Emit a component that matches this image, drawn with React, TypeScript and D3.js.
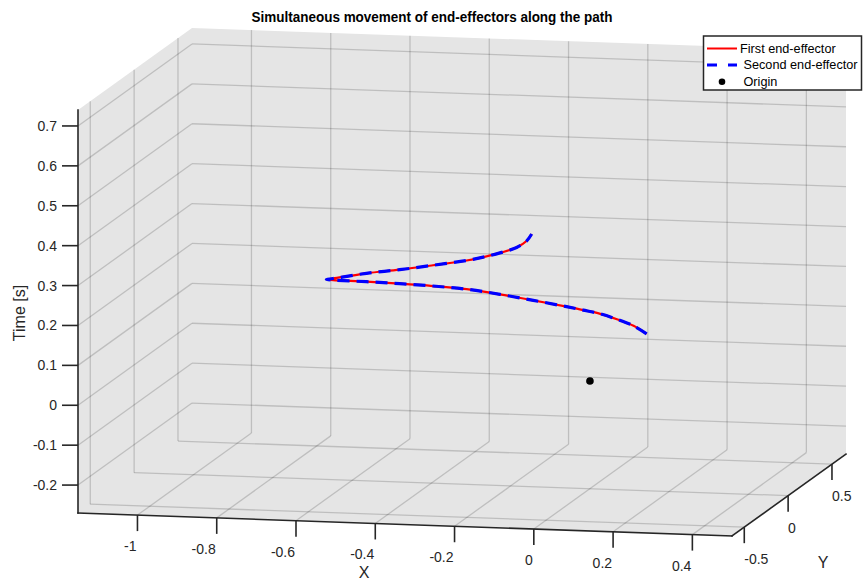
import React, { useRef, useEffect } from "react"
import * as d3 from "d3"

// axis limits and ticks
const xLim = [-1.15, 0.5]
const yLim = [-0.64, 0.66]
const zLim = [-0.27, 0.74]
const xTicks = [-1, -0.8, -0.6, -0.4, -0.2, 0, 0.2, 0.4]
const yTicks = [-0.5, 0, 0.5]
const zTicks = [-0.2, -0.1, 0, 0.1, 0.2, 0.3, 0.4, 0.5, 0.6, 0.7]

// end-effector paths (x, y, time)
const firstX = [0.143, 0.110, 0.068, 0.026, -0.017, -0.059, -0.143, -0.227, -0.311, -0.396, -0.480, -0.564, -0.648, -0.665, -0.648, -0.564, -0.480, -0.396, -0.311, -0.269, -0.227, -0.185, -0.160, -0.147]
const firstY = [0, 0, 0, 0, 0, 0, 0, 0, 0, 0, 0, 0, 0, 0, 0, 0, 0, 0, 0, 0, 0, 0, 0, 0]
const firstT = [0.123, 0.142, 0.157, 0.169, 0.177, 0.184, 0.197, 0.209, 0.219, 0.224, 0.227, 0.229, 0.230, 0.231, 0.234, 0.250, 0.262, 0.276, 0.291, 0.301, 0.313, 0.328, 0.345, 0.363]
const secondX = firstX
const secondY = firstY
const secondT = firstT
const origin = [0, 0, 0]

const legendItems = ["First end-effector", "Second end-effector", "Origin"]

const FONT = "'Liberation Sans', Arial, Helvetica, sans-serif"
const INK = "#262626"

const App = () => {
  const ref = useRef(null)
  const width = 865
  const height = 584

  useEffect(() => {
    const svg = d3.select(ref.current)
    svg.selectAll("*").remove()

    // screen position of the box corner (xmin, ymin, zmin) and the box edges
    const O = [78, 513]
    const EX = [654, 23]
    const EY = [114, -82]
    const EZ = [0, -403]
    const fx = d3.scaleLinear().domain(xLim).range([0, 1])
    const fy = d3.scaleLinear().domain(yLim).range([0, 1])
    const fz = d3.scaleLinear().domain(zLim).range([0, 1])
    const P = (x, y, z) => {
      const a = fx(x), b = fy(y), c = fz(z)
      return [O[0] + a * EX[0] + b * EY[0] + c * EZ[0], O[1] + a * EX[1] + b * EY[1] + c * EZ[1]]
    }
    const [x0, x1] = xLim
    const [y0, y1] = yLim
    const [z0, z1] = zLim

    // panes
    const pane = [P(x0, y0, z0), P(x0, y0, z1), P(x0, y1, z1), P(x1, y1, z1), P(x1, y1, z0), P(x1, y0, z0)]
    svg.append("polygon").attr("points", pane.map(p => p.join(",")).join(" ")).attr("fill", "#e5e5e5")

    // grid
    const segs = []
    xTicks.forEach(v => {
      segs.push([P(v, y1, z0), P(v, y1, z1)])
      segs.push([P(v, y0, z0), P(v, y1, z0)])
    })
    yTicks.forEach(v => {
      segs.push([P(x0, v, z0), P(x0, v, z1)])
      segs.push([P(x0, v, z0), P(x1, v, z0)])
    })
    zTicks.forEach(v => {
      segs.push([P(x0, y0, v), P(x0, y1, v)])
      segs.push([P(x0, y1, v), P(x1, y1, v)])
    })
    svg.append("g").selectAll("line").data(segs).enter().append("line")
      .attr("x1", d => d[0][0]).attr("y1", d => d[0][1])
      .attr("x2", d => d[1][0]).attr("y2", d => d[1][1])
      .attr("stroke", "#000").attr("stroke-opacity", 0.17).attr("stroke-width", 1.3)

    // axis lines
    const axes = [
      [P(x0, y0, z0), P(x1, y0, z0)],
      [P(x1, y0, z0), P(x1, y1, z0)],
      [P(x0, y0, z0), P(x0, y0, z1)],
    ]
    svg.append("g").selectAll("line").data(axes).enter().append("line")
      .attr("x1", d => d[0][0]).attr("y1", d => d[0][1])
      .attr("x2", d => d[1][0]).attr("y2", d => d[1][1])
      .attr("stroke", INK).attr("stroke-width", 1.6).attr("stroke-linecap", "square")

    const tickLen = 16
    const txt = (g, x, y, s, anchor) =>
      g.append("text").attr("x", x).attr("y", y).attr("text-anchor", anchor)
        .attr("dominant-baseline", "central").attr("font-family", FONT)
        .attr("font-size", 14).attr("fill", INK).text(s)

    const gt = svg.append("g")
    xTicks.forEach(v => {
      const [px, py] = P(v, y0, z0)
      gt.append("line").attr("x1", px).attr("y1", py).attr("x2", px).attr("y2", py + tickLen)
        .attr("stroke", INK).attr("stroke-width", 1.6)
      txt(gt, px - 1, py + 31, String(v), "end")
    })
    yTicks.forEach(v => {
      const [px, py] = P(x1, v, z0)
      gt.append("line").attr("x1", px).attr("y1", py).attr("x2", px).attr("y2", py + tickLen)
        .attr("stroke", INK).attr("stroke-width", 1.6)
      txt(gt, px, py + 32, String(v), "start")
    })
    zTicks.forEach(v => {
      const [px, py] = P(x0, y0, v)
      gt.append("line").attr("x1", px).attr("y1", py).attr("x2", px - tickLen).attr("y2", py)
        .attr("stroke", INK).attr("stroke-width", 1.6)
      txt(gt, px - 21, py, String(v), "end")
    })

    // axis labels
    const xMid = P((x0 + x1) / 2, y0, z0)
    svg.append("text").attr("x", xMid[0] - 41).attr("y", xMid[1] + 48)
      .attr("text-anchor", "middle").attr("dominant-baseline", "central")
      .attr("font-family", FONT).attr("font-size", 16).attr("fill", INK).text("X")
    const yMid = P(x1, (y0 + y1) / 2, z0)
    svg.append("text").attr("x", yMid[0] + 34).attr("y", yMid[1] + 67)
      .attr("text-anchor", "middle").attr("dominant-baseline", "central")
      .attr("font-family", FONT).attr("font-size", 16).attr("fill", INK).text("Y")
    svg.append("text").attr("transform", "translate(19,313) rotate(-90)")
      .attr("text-anchor", "middle").attr("dominant-baseline", "central")
      .attr("font-family", FONT).attr("font-size", 16).attr("fill", INK).text("Time [s]")

    // title
    svg.append("text").attr("x", 432).attr("y", 17)
      .attr("text-anchor", "middle").attr("dominant-baseline", "central")
      .attr("font-family", FONT).attr("font-size", 14.5).attr("font-weight", "bold")
      .attr("textLength", 361).attr("lengthAdjust", "spacingAndGlyphs")
      .attr("fill", "#000").text("Simultaneous movement of end-effectors along the path")

    // paths
    const line = d3.line().curve(d3.curveCatmullRom)
    const pts = (X, Y, T) => X.map((x, i) => P(x, Y[i], T[i]))
    svg.append("path").attr("d", line(pts(firstX, firstY, firstT)))
      .attr("fill", "none").attr("stroke", "#ff0000").attr("stroke-width", 2.2)
    svg.append("path").attr("d", line(pts(secondX, secondY, secondT)))
      .attr("fill", "none").attr("stroke", "#0000ff").attr("stroke-width", 3.2)
      .attr("stroke-dasharray", "12,7")

    const o = P(origin[0], origin[1], origin[2])
    svg.append("circle").attr("cx", o[0]).attr("cy", o[1]).attr("r", 3.8).attr("fill", "#000")

    // legend
    const lg = svg.append("g")
    lg.append("rect").attr("x", 703.5).attr("y", 36).attr("width", 158).attr("height", 54)
      .attr("fill", "#fff").attr("stroke", INK).attr("stroke-width", 1.5)
    const rowY = i => 48.5 + i * 16.6
    lg.append("line").attr("x1", 707).attr("x2", 737).attr("y1", rowY(0)).attr("y2", rowY(0))
      .attr("stroke", "#ff0000").attr("stroke-width", 2)
    lg.append("line").attr("x1", 707).attr("x2", 737).attr("y1", rowY(1)).attr("y2", rowY(1))
      .attr("stroke", "#0000ff").attr("stroke-width", 3).attr("stroke-dasharray", "10,11")
    lg.append("circle").attr("cx", 722).attr("cy", rowY(2)).attr("r", 3.3).attr("fill", "#000")
    legendItems.forEach((s, i) => {
      lg.append("text").attr("x", i === 0 ? 740 : 743.5).attr("y", rowY(i))
        .attr("dominant-baseline", "central").attr("font-family", FONT)
        .attr("font-size", 12.7).attr("fill", "#000").text(s)
    })
  }, [])

  return (
    <svg ref={ref} width={width} height={height}
      style={{ position: "absolute", left: 0, top: 0, background: "#fff" }} />
  )
}

export default App
